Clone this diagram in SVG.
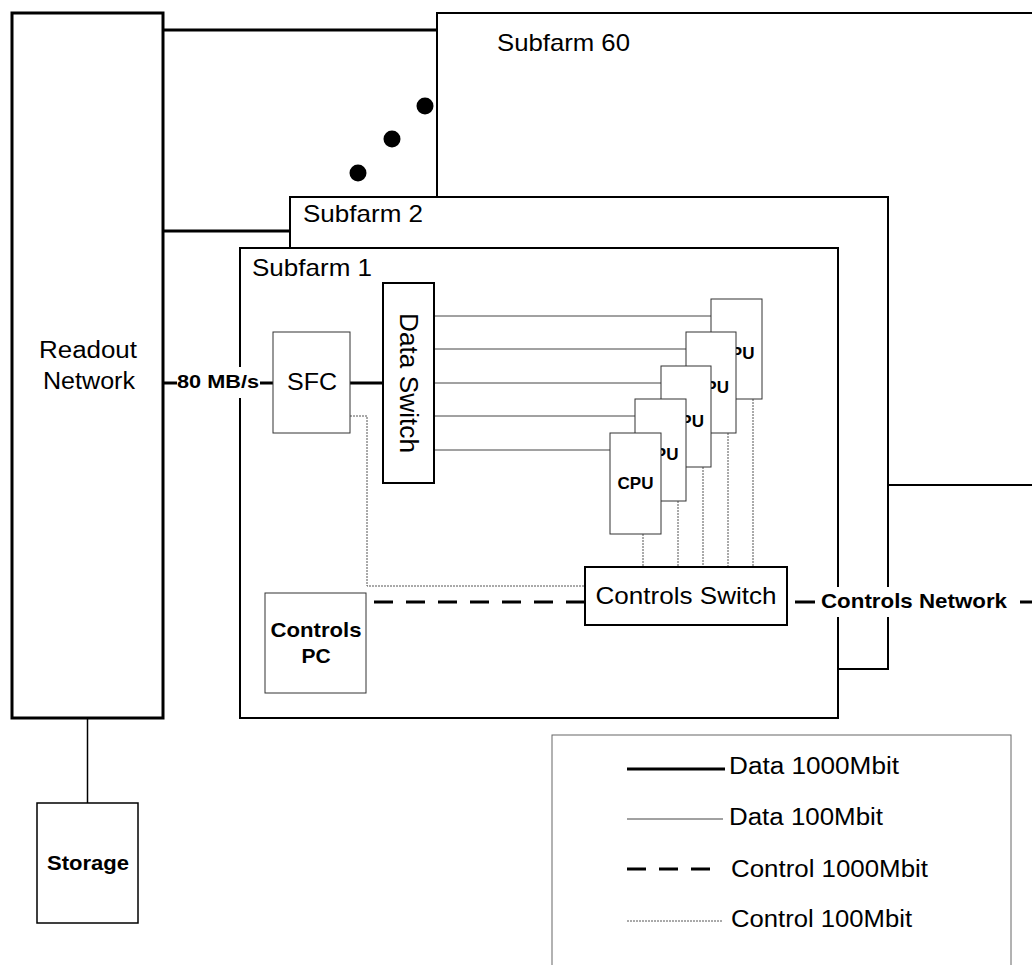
<svg xmlns="http://www.w3.org/2000/svg" width="1032" height="965" viewBox="0 0 1032 965">
<style>
.t{font-family:"Liberation Sans",Arial,sans-serif;fill:#000}
.b{font-weight:bold}
.frame{fill:#fff;stroke:#000;stroke-width:2}
.thin{fill:#fff;stroke:#333;stroke-width:1}
.d1000{stroke:#000;stroke-width:3;fill:none}
.d100{stroke:#444;stroke-width:1;fill:none}
.c1000{stroke:#000;stroke-width:3;fill:none;stroke-dasharray:19 13}
.c100{stroke:#555;stroke-width:1;fill:none;stroke-dasharray:2 1}
</style>
<rect width="1032" height="965" fill="#fff"/>

<g id="subfarm60">
<rect class="frame" x="437" y="13" width="610" height="472"/>
<text class="t" x="497" y="51" font-size="24" textLength="133" lengthAdjust="spacingAndGlyphs">Subfarm 60</text>
</g>
<g id="dots">
<circle cx="425" cy="106" r="8.5"/>
<circle cx="392" cy="139" r="8.5"/>
<circle cx="358" cy="173" r="8.5"/>
</g>
<g id="subfarm2">
<rect class="frame" x="290" y="197" width="598" height="472"/>
<text class="t" x="303" y="222" font-size="24" textLength="120" lengthAdjust="spacingAndGlyphs">Subfarm 2</text>
</g>
<g id="subfarm1">
<rect class="frame" x="240" y="248" width="598" height="470"/>
<text class="t" x="252" y="276" font-size="24" textLength="120" lengthAdjust="spacingAndGlyphs">Subfarm 1</text>
</g>

<g id="readout">
<rect x="12" y="13" width="151" height="705" fill="#fff" stroke="#000" stroke-width="3"/>
<text class="t" x="88" y="358" font-size="23" text-anchor="middle" textLength="98" lengthAdjust="spacingAndGlyphs">Readout</text>
<text class="t" x="89" y="389" font-size="23" text-anchor="middle" textLength="92" lengthAdjust="spacingAndGlyphs">Network</text>
</g>

<g id="storage">
<rect x="37" y="803" width="101" height="120" fill="#fff" stroke="#000" stroke-width="1.5"/>
<text class="t b" x="88" y="870" font-size="21" text-anchor="middle" textLength="82" lengthAdjust="spacingAndGlyphs">Storage</text>
</g>

<g id="connectors">
<line class="d1000" x1="163" y1="30" x2="437" y2="30"/>
<line class="d1000" x1="163" y1="231" x2="290" y2="231"/>
<line x1="87.5" y1="718" x2="87.5" y2="803" stroke="#000" stroke-width="1.5"/>
<line class="d1000" x1="163" y1="383" x2="273" y2="383"/>
<rect x="177" y="367" width="83" height="31" fill="#fff"/>
<text class="t b" x="177" y="388" font-size="18" textLength="82" lengthAdjust="spacingAndGlyphs">80 MB/s</text>
<line class="d1000" x1="350" y1="383" x2="383" y2="383"/>
<line class="d100" x1="434" y1="316" x2="711" y2="316"/>
<line class="d100" x1="434" y1="349" x2="686" y2="349"/>
<line class="d100" x1="434" y1="383" x2="661" y2="383"/>
<line class="d100" x1="434" y1="416" x2="635" y2="416"/>
<line class="d100" x1="434" y1="450" x2="610" y2="450"/>
<polyline class="c100" points="350,416 367,416 367,586 585,586"/>
<line class="c100" x1="643" y1="534" x2="643" y2="567"/>
<line class="c100" x1="678" y1="501" x2="678" y2="567"/>
<line class="c100" x1="703" y1="467" x2="703" y2="567"/>
<line class="c100" x1="728" y1="433" x2="728" y2="567"/>
<line class="c100" x1="753" y1="399" x2="753" y2="567"/>
<line class="c1000" x1="374" y1="602" x2="585" y2="602"/>
<line class="d1000" x1="795" y1="602" x2="1032" y2="602"/>
<rect x="815" y="587" width="205" height="30" fill="#fff"/>
<text class="t b" x="821" y="608" font-size="21" textLength="186" lengthAdjust="spacingAndGlyphs">Controls Network</text>
</g>

<g id="sfc">
<rect class="thin" x="273" y="332" width="77" height="101"/>
<text class="t" x="312" y="390" font-size="24" text-anchor="middle" textLength="50" lengthAdjust="spacingAndGlyphs">SFC</text>
</g>
<g id="dataswitch">
<rect class="frame" x="383" y="283" width="51" height="200"/>
<text class="t" transform="translate(400,383) rotate(90)" x="0" y="0" font-size="25" text-anchor="middle" textLength="140" lengthAdjust="spacingAndGlyphs">Data Switch</text>
</g>
<g id="cpu5">
<rect class="thin" x="711" y="299" width="51" height="100"/>
<text class="t b" x="736.5" y="359" font-size="17" text-anchor="middle">CPU</text>
</g>
<g id="cpu4">
<rect class="thin" x="686" y="332" width="50" height="101"/>
<text class="t b" x="711" y="393" font-size="17" text-anchor="middle">CPU</text>
</g>
<g id="cpu3">
<rect class="thin" x="661" y="366" width="50" height="101"/>
<text class="t b" x="686" y="427" font-size="17" text-anchor="middle">CPU</text>
</g>
<g id="cpu2">
<rect class="thin" x="635" y="399" width="51" height="102"/>
<text class="t b" x="660.5" y="460" font-size="17" text-anchor="middle">CPU</text>
</g>
<g id="cpu1">
<rect class="thin" x="610" y="433" width="51" height="101"/>
<text class="t b" x="635.5" y="489" font-size="17" text-anchor="middle">CPU</text>
</g>
<g id="controlsswitch">
<rect class="frame" x="585" y="567" width="202" height="58"/>
<text class="t" x="686" y="604" font-size="24" text-anchor="middle" textLength="181" lengthAdjust="spacingAndGlyphs">Controls Switch</text>
</g>
<g id="controlspc">
<rect class="thin" x="265" y="593" width="101" height="100"/>
<text class="t b" x="316" y="637" font-size="21" text-anchor="middle" textLength="91" lengthAdjust="spacingAndGlyphs">Controls</text>
<text class="t b" x="316" y="663" font-size="21" text-anchor="middle">PC</text>
</g>

<g id="legend">
<rect x="552" y="735" width="459" height="240" fill="#fff" stroke="#666" stroke-width="1"/>
<line class="d1000" x1="627" y1="769" x2="725" y2="769"/>
<text class="t" x="729" y="774" font-size="23" textLength="170" lengthAdjust="spacingAndGlyphs">Data 1000Mbit</text>
<line class="d100" x1="627" y1="819" x2="723" y2="819"/>
<text class="t" x="729" y="825" font-size="23" textLength="154" lengthAdjust="spacingAndGlyphs">Data 100Mbit</text>
<line class="c1000" x1="627" y1="869" x2="711" y2="869" stroke-dasharray="21 12"/>
<text class="t" x="731" y="877" font-size="23" textLength="197" lengthAdjust="spacingAndGlyphs">Control 1000Mbit</text>
<line class="c100" x1="627" y1="921" x2="722" y2="921"/>
<text class="t" x="731" y="927" font-size="23" textLength="181" lengthAdjust="spacingAndGlyphs">Control 100Mbit</text>
</g>
</svg>
